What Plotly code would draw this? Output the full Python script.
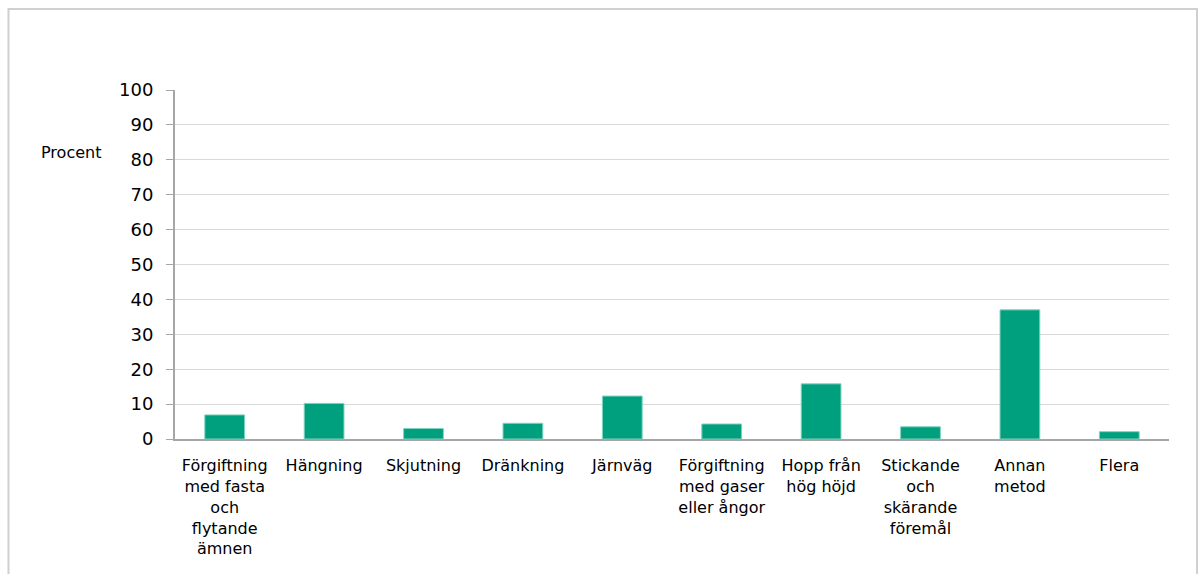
import plotly.graph_objects as go

categories = [
    "Förgiftning<br>med fasta<br>och<br>flytande<br>ämnen",
    "Hängning",
    "Skjutning",
    "Dränkning",
    "Järnväg",
    "Förgiftning<br>med gaser<br>eller ångor",
    "Hopp från<br>hög höjd",
    "Stickande<br>och<br>skärande<br>föremål",
    "Annan<br>metod",
    "Flera",
]
values = [6.9, 10.2, 3.0, 4.5, 12.3, 4.3, 15.8, 3.5, 37.0, 2.1]
y_ticks = [0, 10, 20, 30, 40, 50, 60, 70, 80, 90, 100]

FONT = "DejaVu Sans"

fig = go.Figure(
    go.Bar(
        x=categories,
        y=values,
        marker=dict(color="#009F7E", line=dict(color="#7fd3bd", width=1)),
        hoverinfo="x+y",
    )
)

W, H = 1202, 574
L, R, T, B = 175, 33, 90, 135
pw = W - L - R
ph = H - T - B

def px_x(p):
    return (p - L) / pw

def px_y(p):
    return (H - B - p) / ph

fig.update_layout(
    width=W,
    height=H,
    margin=dict(l=L, r=R, t=T, b=B, pad=0),
    paper_bgcolor="white",
    plot_bgcolor="white",
    bargap=0.6,
    showlegend=False,
    font=dict(family=FONT, color="#000000", size=16),
    xaxis=dict(
        showline=True,
        linecolor="#a6a6a6",
        linewidth=2,
        ticks="",
        showgrid=False,
        tickfont=dict(family=FONT, size=16, color="#000000"),
        tickangle=0,
        ticklabelstandoff=11,
    ),
    yaxis=dict(
        range=[0, 100],
        tickvals=y_ticks,
        ticktext=[str(v) for v in y_ticks],
        showline=True,
        linecolor="#a6a6a6",
        linewidth=2,
        ticks="outside",
        ticklen=7,
        tickwidth=1,
        tickcolor="#a6a6a6",
        showgrid=True,
        gridcolor="#d9d9d9",
        gridwidth=1,
        zeroline=False,
        tickfont=dict(family=FONT, size=18, color="#000000"),
        ticklabelstandoff=9,
    ),
    shapes=[
        dict(
            type="rect",
            xref="paper",
            yref="paper",
            x0=px_x(8.5),
            x1=px_x(1197),
            y0=px_y(600),
            y1=px_y(9),
            line=dict(color="#d0d0d0", width=2),
            fillcolor="rgba(0,0,0,0)",
            layer="below",
        )
    ],
    annotations=[
        dict(
            text="Procent",
            xref="paper",
            yref="paper",
            x=px_x(71),
            y=px_y(152),
            xanchor="center",
            yanchor="middle",
            showarrow=False,
            font=dict(family=FONT, size=16, color="#000000"),
        )
    ],
)

fig.write_html("out.html")
